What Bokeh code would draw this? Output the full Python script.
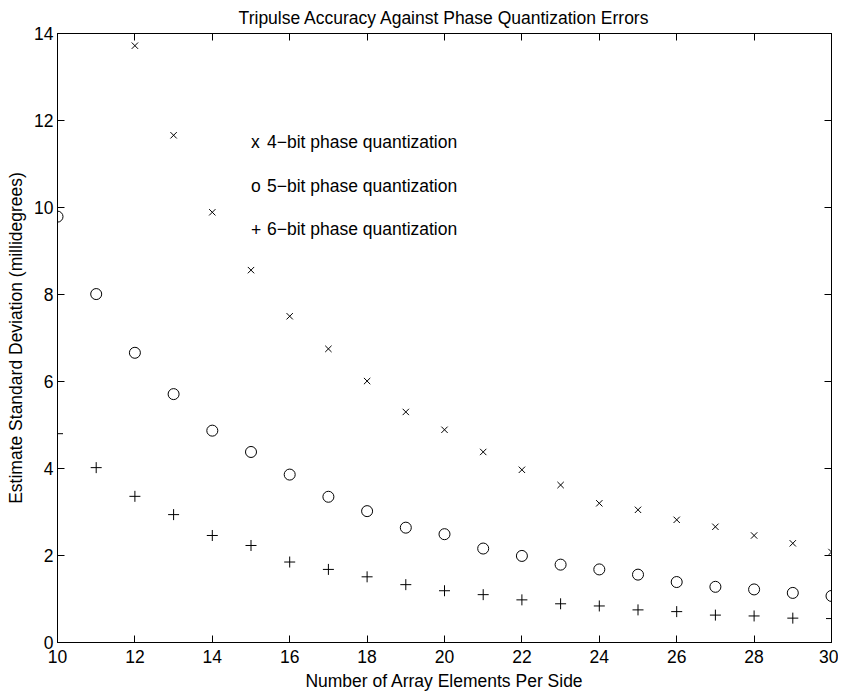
from bokeh.plotting import figure
from bokeh.models import LinearAxis, FixedTicker, Range1d, Label
from bokeh.embed import file_html
from bokeh.resources import INLINE

# ---- data ----
elements_4bit = [12, 13, 14, 15, 16, 17, 18, 19, 20, 21, 22, 23, 24, 25, 26, 27, 28, 29, 30]
std_4bit = [13.72, 11.66, 9.89, 8.56, 7.50, 6.75, 6.01, 5.30, 4.89, 4.38, 3.97, 3.62, 3.20,
            3.05, 2.82, 2.66, 2.46, 2.28, 2.08]

elements_5bit = [10, 11, 12, 13, 14, 15, 16, 17, 18, 19, 20, 21, 22, 23, 24, 25, 26, 27, 28, 29, 30]
std_5bit = [9.79, 8.01, 6.66, 5.71, 4.87, 4.38, 3.86, 3.35, 3.02, 2.64, 2.49, 2.16, 1.99,
            1.79, 1.68, 1.56, 1.39, 1.28, 1.22, 1.14, 1.07]

elements_6bit = [10, 11, 12, 13, 14, 15, 16, 17, 18, 19, 20, 21, 22, 23, 24, 25, 26, 27, 28, 29, 30]
std_6bit = [4.80, 4.02, 3.36, 2.94, 2.46, 2.23, 1.85, 1.68, 1.51, 1.33, 1.19, 1.10, 0.98,
            0.89, 0.84, 0.75, 0.71, 0.63, 0.61, 0.56, 0.55]

legend_symbols = ["x", "o", "+"]
legend_texts = ["4\u2212bit phase quantization",
                "5\u2212bit phase quantization",
                "6\u2212bit phase quantization"]
legend_y = [11.5, 10.5, 9.5]
legend_x = 15

x_ticks = [10, 12, 14, 16, 18, 20, 22, 24, 26, 28, 30]
y_ticks = [0, 2, 4, 6, 8, 10, 12, 14]

FONT = "Liberation Sans"
FS = "17.5px"

p = figure(width=838, height=693, output_backend="svg", toolbar_location=None,
           x_range=Range1d(10, 30), y_range=Range1d(0, 14),
           title="Tripulse Accuracy Against Phase Quantization Errors",
           min_border_left=57, min_border_right=7, min_border_top=33, min_border_bottom=47)

p.title.text_font = FONT
p.title.text_font_size = FS
p.title.text_font_style = "normal"
p.title.text_color = "black"
p.title.align = "center"
p.title.standoff = 11

p.xgrid.visible = False
p.ygrid.visible = False
p.outline_line_color = "black"
p.outline_line_width = 1
p.background_fill_color = "white"
p.border_fill_color = "white"

for ax in (p.xaxis[0], p.yaxis[0]):
    ax.major_label_text_font = FONT
    ax.major_label_text_font_size = FS
    ax.major_label_text_color = "black"
    ax.axis_label_text_font = FONT
    ax.axis_label_text_font_size = FS
    ax.axis_label_text_font_style = "normal"
    ax.axis_label_text_color = "black"
    ax.major_tick_in = 7
    ax.major_tick_out = 0
    ax.minor_tick_line_color = None
    ax.major_tick_line_color = "black"
    ax.axis_line_color = "black"

p.xaxis[0].ticker = FixedTicker(ticks=x_ticks)
p.yaxis[0].ticker = FixedTicker(ticks=y_ticks)
p.xaxis[0].axis_label = "Number of Array Elements Per Side"
p.yaxis[0].axis_label = "Estimate Standard Deviation (millidegrees)"
p.xaxis[0].major_label_standoff = 7
p.yaxis[0].major_label_standoff = 4
p.xaxis[0].axis_label_standoff = 5
p.yaxis[0].axis_label_standoff = 5

top_ax = LinearAxis(ticker=FixedTicker(ticks=x_ticks), major_tick_in=7, major_tick_out=0,
                    minor_tick_line_color=None, major_label_text_font_size="1px",
                    major_label_text_color=None, major_label_standoff=0,
                    axis_line_color="black", major_tick_line_color="black")
right_ax = LinearAxis(ticker=FixedTicker(ticks=y_ticks), major_tick_in=7, major_tick_out=0,
                      minor_tick_line_color=None, major_label_text_font_size="1px",
                      major_label_text_color=None, major_label_standoff=0,
                      axis_line_color="black", major_tick_line_color="black")
p.add_layout(top_ax, "above")
p.add_layout(right_ax, "right")

p.scatter(elements_4bit, std_4bit, marker="x", size=9, line_color="black", line_width=1)
p.scatter(elements_5bit, std_5bit, marker="circle", size=11, line_color="black",
          fill_color=None, line_width=1)
p.scatter(elements_6bit, std_6bit, marker="cross", size=11, line_color="black", line_width=1)

for s, t, yy in zip(legend_symbols, legend_texts, legend_y):
    p.add_layout(Label(x=legend_x, y=yy, text=s, text_font=FONT, text_font_size=FS,
                       text_baseline="middle", text_align="left", text_color="black"))
    p.add_layout(Label(x=legend_x, y=yy, x_offset=16, text=t, text_font=FONT,
                       text_font_size=FS, text_baseline="middle", text_align="left",
                       text_color="black"))

open("out.html", "w").write(file_html(p, INLINE))
